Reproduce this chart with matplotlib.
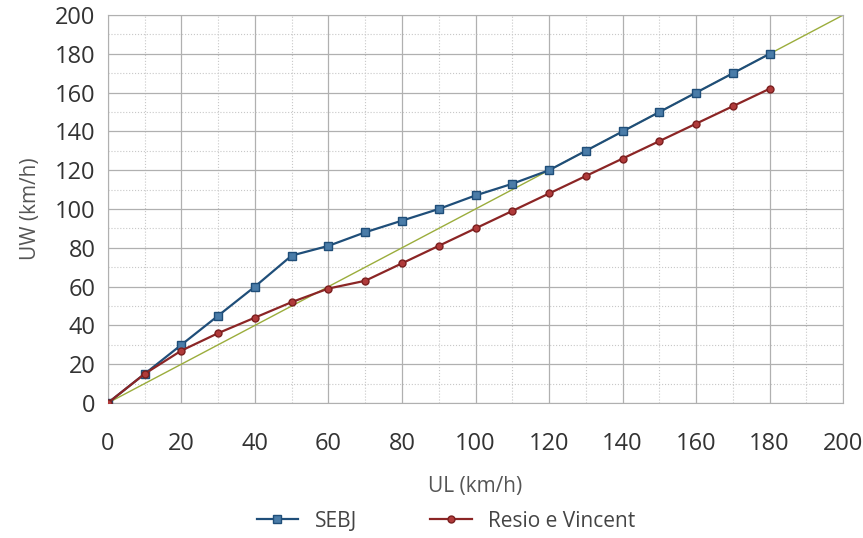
import numpy as np
import matplotlib.pyplot as plt

plt.rcParams['font.family'] = ['Open Sans', 'DejaVu Sans']

ul = [0, 10, 20, 30, 40, 50, 60, 70, 80, 90, 100, 110, 120, 130, 140, 150, 160, 170, 180]
sebj = [0, 15, 30, 45, 60, 76, 81, 88, 94, 100, 107, 113, 120, 130, 140, 150, 160, 170, 180]
resio = [0, 15, 27, 36, 44, 52, 59, 63, 72, 81, 90, 99, 108, 117, 126, 135, 144, 153, 162]
ref_line = [0, 200]

fig = plt.figure(figsize=(8.63, 5.38), dpi=100)
ax = fig.add_axes([0.125, 0.251, 0.852, 0.721])

ax.plot(ref_line, ref_line, color='#9bad3c', lw=1.0, zorder=2)
ax.plot(ul, sebj, color='#1f4e79', lw=1.6, marker='s', ms=6,
        mfc='#4a7ca8', mec='#1f4e79', label='SEBJ', zorder=3)
ax.plot(ul, resio, color='#8b2525', lw=1.6, marker='o', ms=5,
        mfc='#b03a3a', mec='#7a1f1f', label='Resio e Vincent', zorder=3)

ax.set_xlim(0, 200)
ax.set_ylim(0, 200)
ax.set_xticks(np.arange(0, 201, 20))
ax.set_yticks(np.arange(0, 201, 20))
ax.set_xticks(np.arange(0, 201, 10), minor=True)
ax.set_yticks(np.arange(0, 201, 10), minor=True)
ax.grid(which='major', color='#b0b0b0', lw=0.9)
ax.grid(which='minor', color='#c8c8c8', lw=0.8, ls=':')
ax.tick_params(which='both', length=0, labelsize=17, labelcolor='#333333')
ax.tick_params(axis='x', pad=21)
ax.tick_params(axis='y', pad=9)
for s in ax.spines.values():
    s.set_color('#b0b0b0')

ax.set_xlabel('UL (km/h)', fontsize=15, color='#555555', labelpad=14)
ax.set_ylabel('UW (km/h)', fontsize=15, color='#555555', labelpad=10)

ax.legend(loc='center', bbox_to_anchor=(0.46, -0.305), ncol=2, frameon=False,
          fontsize=15, labelcolor='#444444', columnspacing=3.5, handlelength=2)

fig.savefig('out.png', dpi=100)
